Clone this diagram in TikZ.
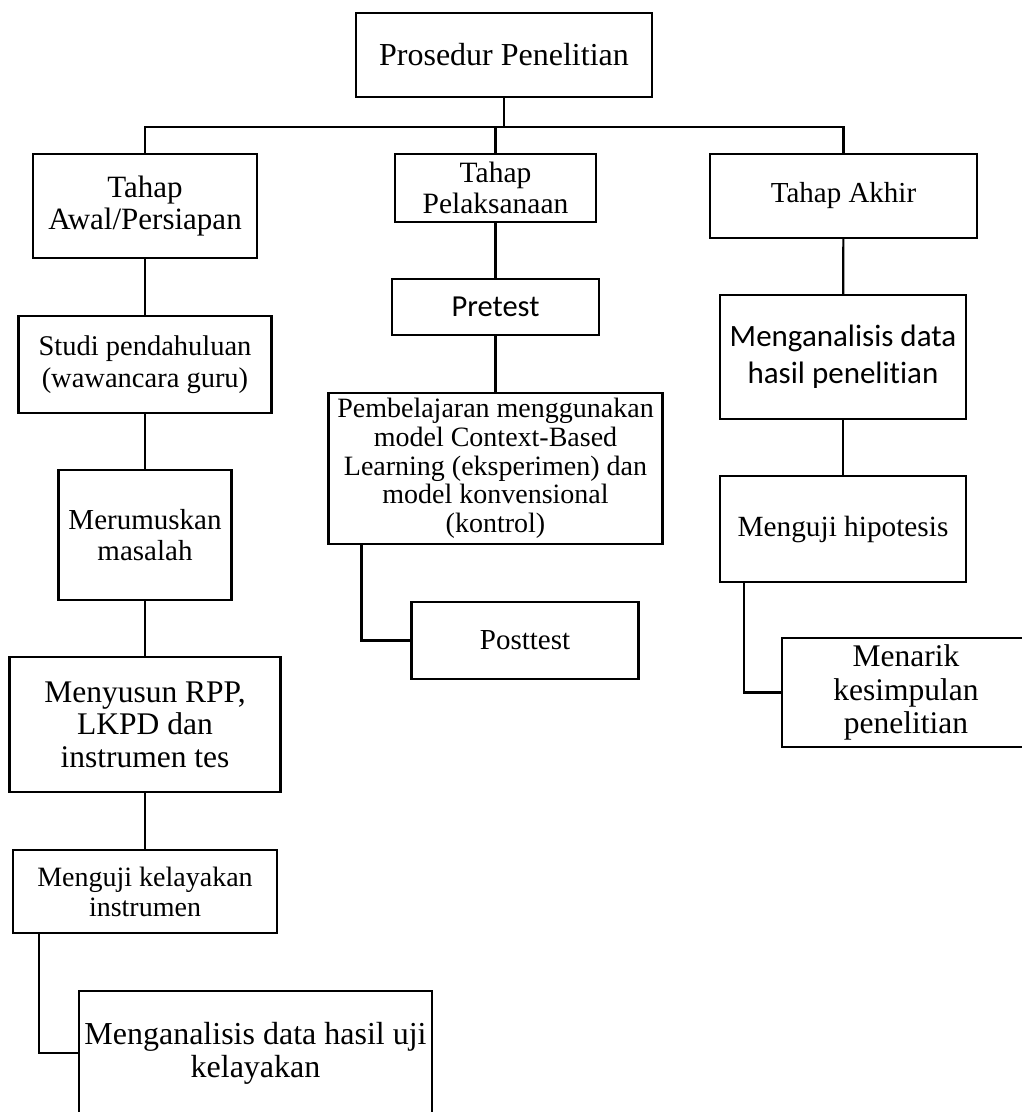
\documentclass[tikz,border=0pt]{standalone}
\usepackage{fontspec}
\setmainfont{Liberation Serif}
\newfontfamily\calibri[Ligatures=NoCommon]{Carlito}
\usetikzlibrary{positioning}
\tikzset{
  box/.style={draw, line width=2.2pt, align=center, inner sep=0pt},
}

\begin{document}
\begin{tikzpicture}[x=1pt, y=-1pt, line width=2.2pt]
            \useasboundingbox (0,0) rectangle (1022,1112);

            \node (1) [box, minimum width=296pt, minimum height=84pt, font=\fontsize{32}{33}\selectfont] at (504,55) {Prosedur Penelitian};

            \node (2) [box, node distance=151pt, below of=1, xshift=-359pt, minimum width=224pt, minimum height=104pt, font=\fontsize{31}{32}\selectfont] {Tahap\\Awal/Persiapan};
            \node (3) [box, node distance=133pt, below of=1, xshift=-8.5pt, minimum width=201pt, minimum height=68pt, font=\fontsize{29.5}{31}\selectfont] {Tahap\\Pelaksanaan};
            \node (4) [box, node distance=141pt, below of=1, xshift=339.5pt, minimum width=267pt, minimum height=84pt, font=\fontsize{29}{30}\selectfont] {Tahap Akhir};

            \node (5) [box, node distance=119pt, below of=3, minimum width=207pt, minimum height=56pt, font=\calibri\fontsize{30.5}{32}\selectfont] {Pretest};
            \node (6) [box, node distance=161.5pt, below of=5, minimum width=334pt, minimum height=151pt, font=\fontsize{28}{28.75}\selectfont] {Pembelajaran menggunakan\\model Context-Based\\Learning (eksperimen) dan\\model konvensional\\(kontrol)};
            \node (7) [box, node distance=172pt, below of=6, xshift=29.5pt, minimum width=227pt, minimum height=77pt, font=\fontsize{29}{30}\selectfont] {Posttest};

            \node (8) [box, node distance=158.5pt, below of=2, minimum width=253pt, minimum height=97pt, font=\fontsize{28.5}{31.7}\selectfont] {Studi pendahuluan\\(wawancara guru)};
            \node (9) [box, node distance=170.5pt, below of=8, minimum width=173pt, minimum height=130pt, font=\fontsize{29}{31.7}\selectfont] {Merumuskan\\masalah};
            \node (10) [box, node distance=189.5pt, below of=9, minimum width=271pt, minimum height=135pt, font=\fontsize{31.5}{32.5}\selectfont] {Menyusun RPP,\\LKPD dan\\instrumen tes};
            \node (11) [box, node distance=167pt, below of=10, minimum width=264pt, minimum height=83pt, font=\fontsize{28}{30}\selectfont] {Menguji kelayakan\\instrumen};
            \node (12) [box, node distance=161.5pt, below of=11, xshift=110.5pt, minimum width=353pt, minimum height=124pt, font=\fontsize{32}{33}\selectfont] {Menganalisis data hasil uji\\kelayakan};

            \node (13) [box, node distance=161pt, below of=4, xshift=-0.5pt, minimum width=246pt, minimum height=124pt, font=\calibri\fontsize{31}{36.7}\selectfont] {Menganalisis data\\hasil penelitian};
            \node (14) [box, node distance=172pt, below of=13, minimum width=246pt, minimum height=106pt, font=\fontsize{29.3}{30}\selectfont] {Menguji hipotesis};
            \node (15) [box, node distance=163.5pt, below of=14, xshift=63pt, minimum width=248pt, minimum height=109pt, font=\fontsize{31.5}{33.3}\selectfont] {Menarik\\kesimpulan\\penelitian};

            \draw (1.south) -- ++(0,29) -| (2.north);
            \draw (1.south) -- ++(0,29) -| (3.north);
            \draw (1.south) -- ++(0,29) -| (4.north);

            \draw (3) -- (5);
            \draw (5) -- (6);
            \draw ([xshift=34pt]6.south west) |- (7.west);

            \draw (2) -- (8);
            \draw (8) -- (9);
            \draw (9) -- (10);
            \draw (10) -- (11);
            \draw ([xshift=27pt]11.south west) |- (12.west);

            \draw (4) -- (13);
            \draw (13) -- (14);
            \draw ([xshift=25pt]14.south west) |- (15.west);
        \end{tikzpicture}
\end{document}
